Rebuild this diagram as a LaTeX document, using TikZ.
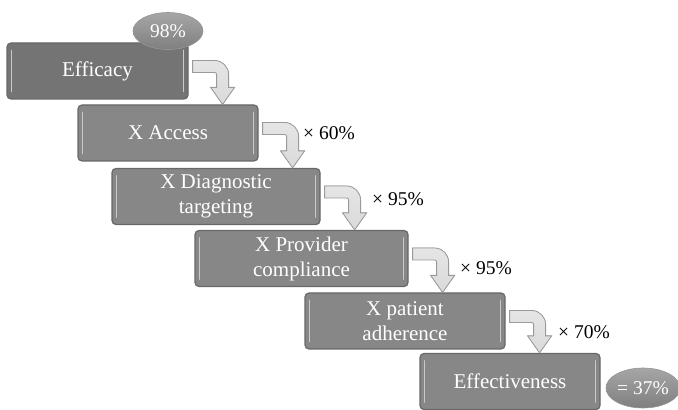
\documentclass[tikz,border=0pt]{standalone}
\usepackage{fontspec}
\setmainfont{Liberation Serif}
\usetikzlibrary{calc,shapes.geometric}

\definecolor{stepgray}{HTML}{878787}
\definecolor{stepdark}{HTML}{747474}
\definecolor{steprim}{HTML}{686868}
\definecolor{turnfill}{HTML}{DADADA}
\definecolor{turnrim}{HTML}{9A9A9A}

\tikzset{
  stage/.style={draw=steprim, line width=1.2pt, fill=stepgray, rounded corners=4pt,
    minimum height=56pt, inner sep=0pt, text=white, align=center,
    font=\fontsize{21}{25}\selectfont},
  badge/.style={ellipse, inner sep=0pt, draw=steprim!70, line width=0.6pt,
    top color=gray!70, bottom color=gray!100, text=white,
    font=\fontsize{19.5}{23}\selectfont},
  factor/.style={anchor=west, inner sep=0pt, font=\fontsize{19.5}{23}\selectfont},
  gleam/.style={draw=white!55!stepgray, line width=1.6pt, line cap=round},
  turnarrow/.style={top color=turnfill!70, bottom color=turnfill, draw=turnrim, line width=0.8pt}
}

% bent arrow from the right side of one stage down onto the next
\newcommand\turn[2]{%
  \filldraw[turnarrow] let \p1=(#1.east), \p2=(#2.north) in
    (\x1+4pt,\y1+10.5pt) -- (\x1+26pt,\y1+10.5pt)
    arc[start angle=90, end angle=0, radius=14pt]
    -- (\x1+40pt,\y2+17pt) -- (\x1+46pt,\y2+17pt) -- (\x1+34pt,\y2)
    -- (\x1+22pt,\y2+17pt) -- (\x1+28pt,\y2+17pt) -- (\x1+28pt,\y1-3.5pt)
    arc[start angle=0, end angle=90, radius=2pt]
    -- (\x1+4pt,\y1-1.5pt) -- cycle;}

\begin{document}
\begin{tikzpicture}[x=1pt, y=1pt]
  \useasboundingbox (0,0) rectangle (678,410);

  \node[stage, fill=stepdark, minimum width=181pt] (efficacy) at (97.5,339) {Efficacy};
  \node[stage, minimum width=180pt] (access) at (168,277) {X Access};
  \node[stage, minimum width=208pt] (diagnostic) at (216,213.5) {X Diagnostic\\targeting};
  \node[stage, minimum width=213pt] (provider) at (301.5,151.5) {X Provider\\compliance};
  \node[stage, minimum width=200pt] (patient) at (405,89) {X patient\\adherence};
  \node[stage, minimum width=180pt] (effect) at (510,28.5) {Effectiveness};

  \foreach \s in {efficacy,access,diagnostic,provider,patient,effect} {
    \draw[gleam] ([xshift=5pt,yshift=-8pt]\s.north west) -- ([xshift=5pt,yshift=8pt]\s.south west);
    \draw[gleam] ([xshift=-5pt,yshift=-8pt]\s.north east) -- ([xshift=-5pt,yshift=8pt]\s.south east);
  }

  \turn{efficacy}{access}
  \turn{access}{diagnostic}
  \turn{diagnostic}{provider}
  \turn{provider}{patient}
  \turn{patient}{effect}

  \node[factor] (f60) at (303,277) {× 60\%};
  \node[factor] (f95a) at (372,211) {× 95\%};
  \node[factor] (f95b) at (460,142) {× 95\%};
  \node[factor] (f70) at (558,78) {× 70\%};

  \node[badge, minimum width=70pt, minimum height=37pt] (start) at (168,379) {98\%};
  \node[badge, minimum width=74pt, minimum height=40pt] (total) at (643,22) {= 37\%};
\end{tikzpicture}
\end{document}
